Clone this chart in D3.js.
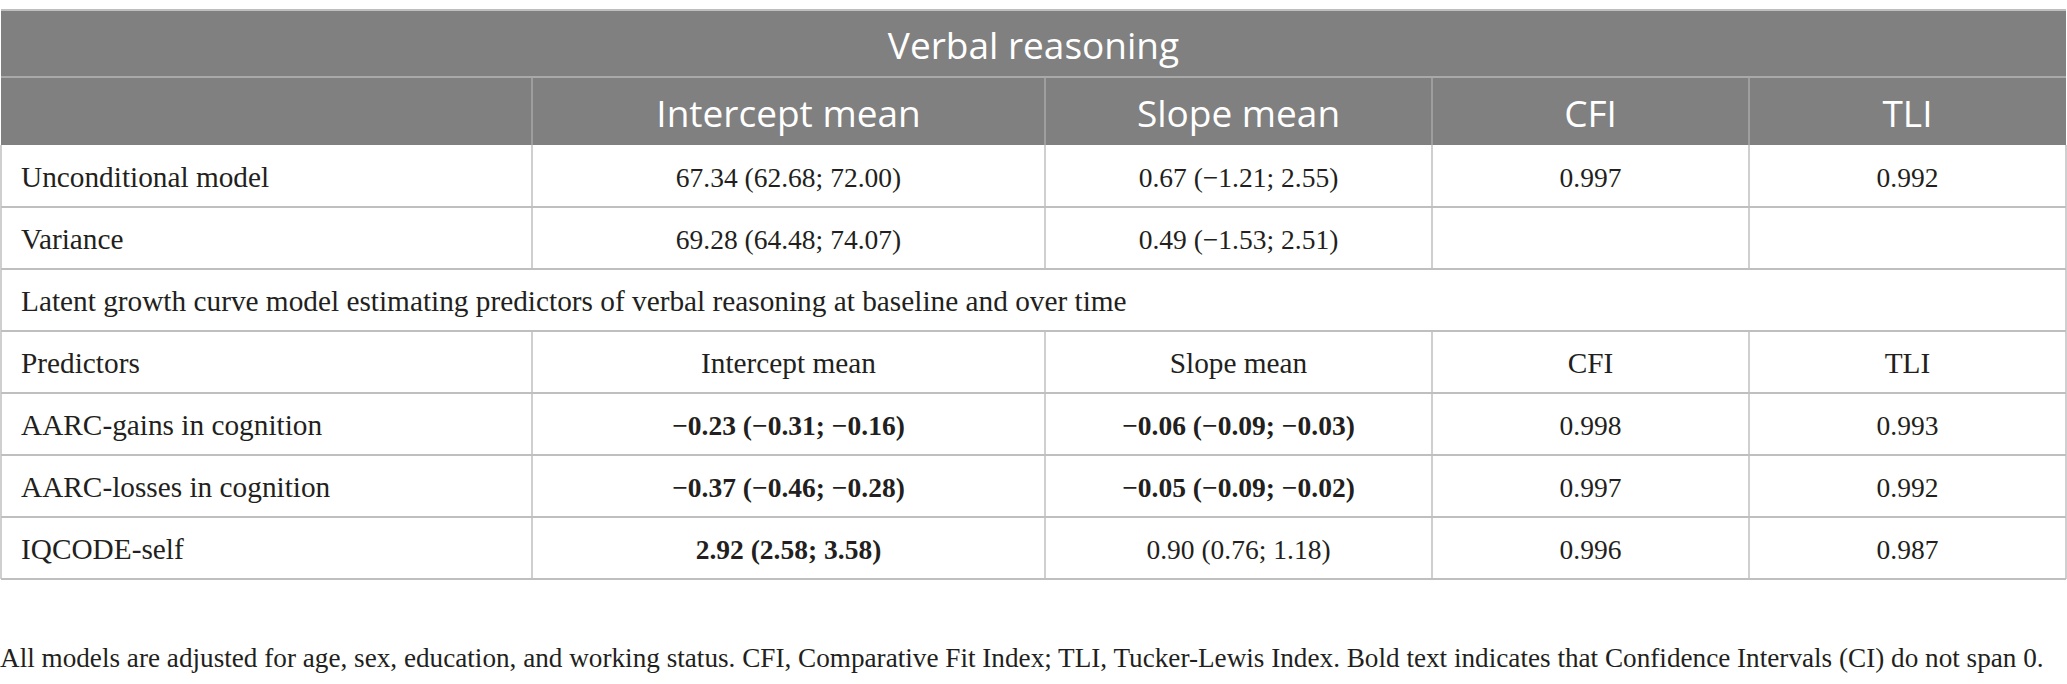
<!DOCTYPE html>
<html>
<head>
<meta charset="utf-8">
<style>
  html, body { margin: 0; padding: 0; background: #fff; }
</style>
</head>
<body>
<div id="container"></div>
<script src="https://d3js.org/d3.v7.min.js"></script>
<script>
// table content
var title = "Verbal reasoning";
var headers = ["", "Intercept mean", "Slope mean", "CFI", "TLI"];
var rowLabels = ["Unconditional model", "Variance", "Latent growth curve model estimating predictors of verbal reasoning at baseline and over time",
  "Predictors", "AARC-gains in cognition", "AARC-losses in cognition", "IQCODE-self"];
var interceptCol = ["67.34 (62.68; 72.00)", "69.28 (64.48; 74.07)", null, "Intercept mean",
  "\u22120.23 (\u22120.31; \u22120.16)", "\u22120.37 (\u22120.46; \u22120.28)", "2.92 (2.58; 3.58)"];
var slopeCol = ["0.67 (\u22121.21; 2.55)", "0.49 (\u22121.53; 2.51)", null, "Slope mean",
  "\u22120.06 (\u22120.09; \u22120.03)", "\u22120.05 (\u22120.09; \u22120.02)", "0.90 (0.76; 1.18)"];
var cfiCol = ["0.997", "", null, "CFI", "0.998", "0.997", "0.996"];
var tliCol = ["0.992", "", null, "TLI", "0.993", "0.992", "0.987"];
// which cells are bold (CI does not span 0)
var boldIntercept = [false, false, false, false, true, true, true];
var boldSlope = [false, false, false, false, true, true, false];
var footnote = "All models are adjusted for age, sex, education, and working status. CFI, Comparative Fit Index; TLI, Tucker-Lewis Index. Bold text indicates that Confidence Intervals (CI) do not span 0.";

var W = 2067, H = 684;
var colEdges = [1, 532, 1045, 1432, 1749, 2066];
var tableTop = 10, h1 = 67, h2 = 68, rowH = 62;

var svg = d3.select("#container").append("svg")
  .attr("width", W).attr("height", H)
  .style("display", "block");

var serif = "'Liberation Serif', 'Times New Roman', serif";
var sans = "'Open Sans', 'Noto Sans', sans-serif";

// rows of the body
var y = d3.scaleBand()
  .domain(d3.range(rowLabels.length))
  .range([tableTop + h1 + h2, tableTop + h1 + h2 + rowH * rowLabels.length]);

// header background
svg.append("rect")
  .attr("x", colEdges[0]).attr("y", tableTop)
  .attr("width", colEdges[5] - colEdges[0]).attr("height", h1 + h2)
  .attr("fill", "#7f807f");

svg.append("text")
  .attr("x", (colEdges[0] + colEdges[5]) / 2)
  .attr("y", tableTop + h1 / 2 + 1)
  .attr("text-anchor", "middle")
  .attr("dominant-baseline", "central")
  .style("font-family", sans).style("font-size", "37px")
  .attr("fill", "#fff")
  .text(title);

// header line between title and column names
svg.append("line")
  .attr("x1", colEdges[0]).attr("x2", colEdges[5])
  .attr("y1", tableTop + h1).attr("y2", tableTop + h1)
  .attr("stroke", "#a9a9a9").attr("stroke-width", 2);

// column name cells
svg.append("g").selectAll("line").data(colEdges.slice(1, 5)).enter().append("line")
  .attr("x1", function (d) { return d; }).attr("x2", function (d) { return d; })
  .attr("y1", tableTop + h1).attr("y2", tableTop + h1 + h2)
  .attr("stroke", "#a9a9a9").attr("stroke-width", 1.5);

svg.append("g").selectAll("text").data(headers).enter().append("text")
  .attr("x", function (d, i) { return (colEdges[i] + colEdges[i + 1]) / 2; })
  .attr("y", tableTop + h1 + h2 / 2 + 1)
  .attr("text-anchor", "middle")
  .attr("dominant-baseline", "central")
  .style("font-family", sans).style("font-size", "37px")
  .attr("fill", "#fff")
  .text(function (d) { return d; });

// body grid
var grid = svg.append("g").attr("stroke", "#bfbfbf");
grid.selectAll("line.h").data(d3.range(rowLabels.length)).enter().append("line")
  .attr("x1", colEdges[0]).attr("x2", colEdges[5])
  .attr("y1", function (d) { return y(d) + y.bandwidth(); })
  .attr("y2", function (d) { return y(d) + y.bandwidth(); })
  .attr("stroke-width", 2);

rowLabels.forEach(function (lab, r) {
  var spanning = interceptCol[r] === null;
  var edges = spanning ? [colEdges[0], colEdges[5]] : colEdges;
  grid.selectAll(null).data(edges).enter().append("line")
    .attr("x1", function (d) { return d; }).attr("x2", function (d) { return d; })
    .attr("y1", y(r)).attr("y2", y(r) + y.bandwidth())
    .attr("stroke-width", 1.5);
});

// cell texts
var body = svg.append("g")
  .style("font-family", serif).attr("fill", "#231f20");

body.selectAll("text.lab").data(rowLabels).enter().append("text")
  .attr("x", colEdges[0] + 20)
  .attr("y", function (d, i) { return y(i) + y.bandwidth() / 2 + 1; })
  .attr("dominant-baseline", "central")
  .style("font-size", "29.3px")
  .text(function (d) { return d; });

var cols = [interceptCol, slopeCol, cfiCol, tliCol];
var bolds = [boldIntercept, boldSlope, null, null];
cols.forEach(function (col, c) {
  var cells = col.map(function (v, r) {
    return { v: v, r: r, bold: !!(bolds[c] && bolds[c][r]) };
  }).filter(function (d) { return d.v !== null; });
  body.selectAll(null).data(cells).enter().append("text")
    .attr("x", (colEdges[c + 1] + colEdges[c + 2]) / 2)
    .attr("y", function (d) { return y(d.r) + y.bandwidth() / 2 + 1; })
    .attr("text-anchor", "middle")
    .attr("dominant-baseline", "central")
    .style("font-size", function (d) { return d.r === 3 ? "29.3px" : "27.5px"; })
    .style("font-weight", function (d) { return d.bold ? "bold" : "normal"; })
    .text(function (d) { return d.v; });
});

// top border
svg.append("line")
  .attr("x1", colEdges[0]).attr("x2", colEdges[5])
  .attr("y1", tableTop).attr("y2", tableTop)
  .attr("stroke", "#bfbfbf").attr("stroke-width", 2);

svg.append("text")
  .attr("x", 0).attr("y", 658)
  .attr("dominant-baseline", "central")
  .style("font-family", serif).style("font-size", "27.2px").attr("fill", "#231f20")
  .text(footnote);
</script>
</body>
</html>
